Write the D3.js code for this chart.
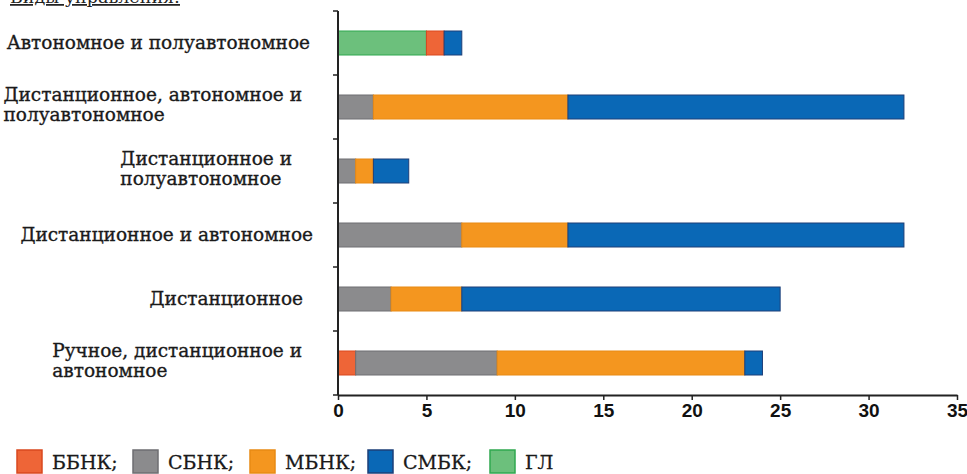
<!DOCTYPE html>
<html>
<head>
<meta charset="utf-8">
<script src="https://d3js.org/d3.v7.min.js"></script>
<style>
  body { margin: 0; background: #fff; }
</style>
</head>
<body>
<div id="container"></div>
<script>
const categories = [
  ['Автономное и полуавтономное'],
  ['Дистанционное, автономное и', 'полуавтономное'],
  ['Дистанционное и', 'полуавтономное'],
  ['Дистанционное и автономное'],
  ['Дистанционное'],
  ['Ручное, дистанционное и', 'автономное']
];
const seriesNames = ['ГЛ', 'ББНК', 'СБНК', 'МБНК', 'СМБК'];
const legendOrder = ['ББНК', 'СБНК', 'МБНК', 'СМБК', 'ГЛ'];
const gl   = [5, 0, 0, 0, 0, 0];
const bbnk = [1, 0, 0, 0, 0, 1];
const sbnk = [0, 2, 1, 7, 3, 8];
const mbnk = [0, 11, 1, 6, 4, 14];
const smbk = [1, 19, 2, 19, 18, 1];
const xTicks = [0, 5, 10, 15, 20, 25, 30, 35];

const fills   = { 'ББНК': '#ee6537', 'СБНК': '#8b8b8d', 'МБНК': '#f4961f', 'СМБК': '#0a68b6', 'ГЛ': '#6cc07c' };
const strokes = { 'ББНК': '#d9481f', 'СБНК': '#6e6e72', 'МБНК': '#e88a14', 'СМБК': '#1d3f78', 'ГЛ': '#2fa84f' };
const serif = "'DejaVu Serif', 'Liberation Serif', serif";

const w = 967, h = 474;
const rows = categories.map((c, i) => ({
  key: i, 'ГЛ': gl[i], 'ББНК': bbnk[i], 'СБНК': sbnk[i], 'МБНК': mbnk[i], 'СМБК': smbk[i]
}));
const stacked = d3.stack().keys(seriesNames)(rows);

const xScale = d3.scaleLinear().domain([0, 35]).range([338, 957]);
const yScale = d3.scaleBand().domain(d3.range(categories.length)).range([11, 395]).paddingInner(0.625).paddingOuter(0.3125);

const svg = d3.select('#container').append('svg').attr('width', w).attr('height', h);

// title, mostly above the top edge as in the scan
svg.append('text').attr('x', 10).attr('y', 3)
   .style('font-family', serif)
   .attr('font-size', 17.5).attr('text-decoration', 'underline')
   .attr('fill', '#222').text('Виды управления:');

svg.selectAll('g.layer')
   .data(stacked)
   .enter()
   .append('g')
   .attr('class', 'layer')
   .attr('fill', d => fills[d.key])
   .attr('stroke', d => strokes[d.key])
   .selectAll('rect')
   .data(d => d.filter(s => s[1] > s[0]))
   .enter()
   .append('rect')
   .attr('x', d => xScale(d[0]))
   .attr('width', d => xScale(d[1]) - xScale(d[0]))
   .attr('y', d => yScale(d.data.key))
   .attr('height', yScale.bandwidth())
   .attr('stroke-width', 1);

// x axis
const xAxis = svg.append('g')
   .attr('transform', 'translate(0,395)')
   .call(d3.axisBottom(xScale).tickValues(xTicks).tickSize(5).tickSizeOuter(0));
xAxis.select('.domain').attr('stroke', '#222').attr('stroke-width', 2);
xAxis.selectAll('.tick line').attr('stroke', '#222').attr('stroke-width', 1.5);
xAxis.selectAll('.tick text')
   .attr('y', 9)
   .style('font-family', "'Liberation Sans', Arial, sans-serif")
   .attr('font-size', 19).attr('font-weight', 'bold').attr('fill', '#111');

// y axis with ticks at band edges
const yEdges = d3.range(categories.length + 1).map(i => 11 + i * (384 / categories.length));
const yAxis = svg.append('g');
yAxis.append('line').attr('x1', 338).attr('x2', 338).attr('y1', 11).attr('y2', 395)
   .attr('stroke', '#222').attr('stroke-width', 2);
yAxis.selectAll('line.tk').data(yEdges).enter().append('line').attr('class', 'tk')
   .attr('x1', 333).attr('x2', 338).attr('y1', d => d).attr('y2', d => d)
   .attr('stroke', '#222').attr('stroke-width', 1.5);

// category labels: block right aligned, lines left aligned
const labelRight = [310, 302, 292, 313, 303, 302];
categories.forEach((lines, i) => {
  const cy = yScale(i) + yScale.bandwidth() / 2 - (lines.length > 1 ? 2 : 0);
  const lh = 20;
  const g = svg.append('g');
  const texts = lines.map((t, j) => g.append('text')
     .attr('y', cy + (j - (lines.length - 1) / 2) * lh)
     .attr('dy', '0.35em')
     .style('font-family', serif)
     .attr('font-size', 18.5)
     .attr('fill', '#1a1a1a').attr('stroke', '#1a1a1a').attr('stroke-width', 0.35)
     .text(t));
  const maxW = d3.max(texts, t => t.node().getComputedTextLength());
  texts.forEach(t => t.attr('x', labelRight[i] - maxW));
});

// legend
const legendX = [17, 133, 250, 368, 490];
const legend = svg.selectAll('g.legend').data(legendOrder).enter().append('g')
   .attr('class', 'legend')
   .attr('transform', (d, i) => 'translate(' + legendX[i] + ',450)');
legend.append('rect').attr('width', 25).attr('height', 23)
   .attr('fill', d => fills[d]).attr('stroke', d => strokes[d]).attr('stroke-width', 1.5);
legend.append('text').attr('x', 35).attr('y', 19)
   .style('font-family', serif)
   .attr('font-size', 19).attr('fill', '#1a1a1a')
   .attr('stroke', '#1a1a1a').attr('stroke-width', 0.3)
   .text(d => d === 'ГЛ' ? d : d + ';');
</script>
</body>
</html>
